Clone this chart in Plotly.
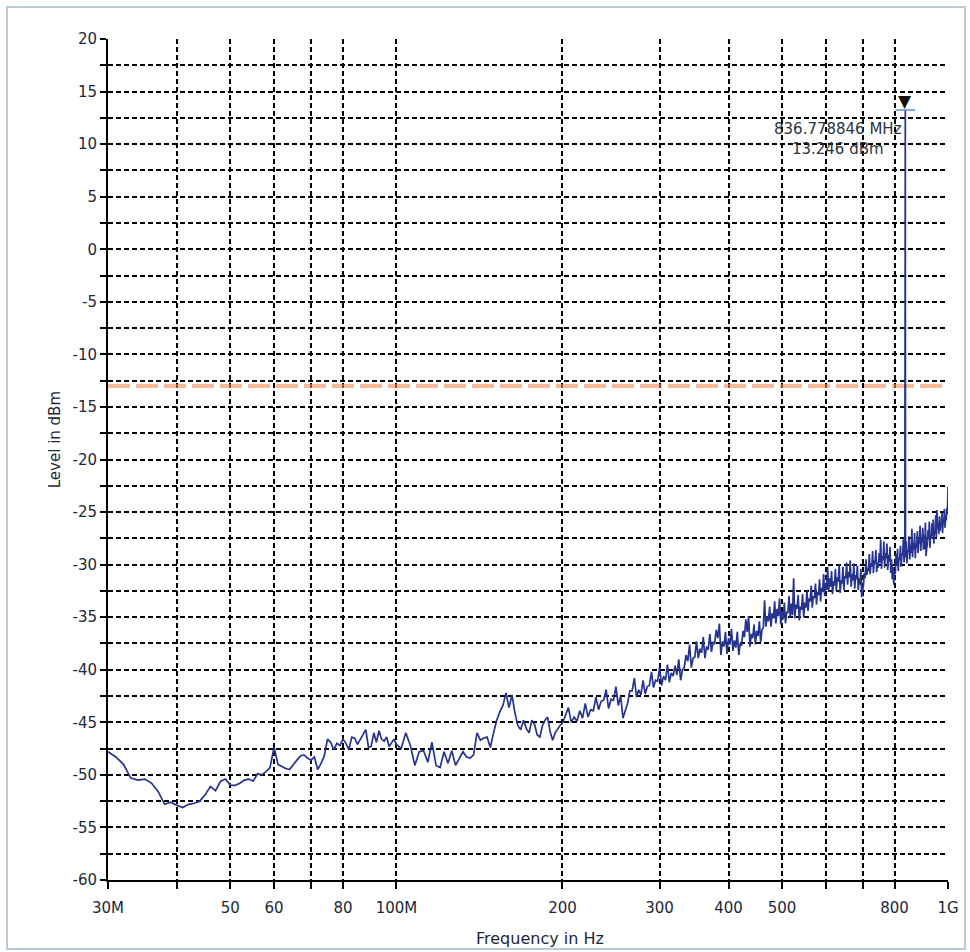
import math
import plotly.graph_objects as go

# Spectrum sweep, 30 MHz - 1 GHz (frequencies in MHz, levels in dBm)
LOW_FREQ_MHZ = [30, 31, 32, 33, 34, 35, 36, 37, 38, 39,
                40, 41, 42, 43, 44, 45, 46, 47, 48, 49,
                50, 51, 52, 53, 54, 55, 56, 57, 58, 59,
                60, 61, 62, 63, 64, 65, 66, 67, 68, 69,
                70, 71, 72, 73, 74, 75, 76, 77, 78, 79,
                80, 81, 82, 83, 84, 85, 86, 87, 88, 89,
                90, 91, 92, 93, 94, 95, 96, 97, 98, 99,
                100]
LOW_LEVEL_DBM = [-47.8, -48.3, -49.0, -50.3, -50.5, -50.4, -50.8, -51.6, -52.8, -52.6,
                 -52.9, -53.1, -52.8, -52.7, -52.5, -51.9, -51.1, -51.5, -50.6, -50.4,
                 -51.0, -51.0, -50.8, -50.5, -50.4, -50.6, -49.9, -50.0, -49.7, -49.3,
                 -47.4, -49.0, -49.2, -49.4, -49.5, -49.1, -48.6, -48.2, -48.1, -48.4,
                 -48.6, -48.3, -49.5, -48.9, -48.2, -46.6, -46.9, -47.6, -47.0, -47.2,
                 -46.6, -47.0, -47.6, -46.4, -46.5, -47.1, -46.6, -46.1, -45.7, -47.4,
                 -47.3, -46.0, -46.9, -45.8, -46.6, -46.8, -46.4, -47.3, -47.0, -46.6,
                 -47.1]

MID_FREQ_MHZ = [102, 104, 106, 108, 110, 112, 114, 116, 118, 120,
                122, 124, 126, 128, 130, 132, 134, 136, 138, 140,
                142, 144, 146, 148, 150, 152, 154, 156, 158, 160,
                162, 164, 166, 168, 170, 172, 174, 176, 178, 180,
                182, 184, 186, 188, 190, 192, 194, 196, 198, 200]
MID_LEVEL_DBM = [-47.5, -46.0, -47.2, -49.1, -47.8, -47.7, -48.8, -46.9, -49.1, -49.3,
                 -47.8, -48.9, -47.7, -49.1, -48.4, -47.8, -48.3, -48.4, -48.1, -46.0,
                 -46.7, -46.5, -46.4, -47.4, -46.0, -44.8, -44.0, -43.4, -42.2, -43.6,
                 -42.4, -44.1, -45.3, -45.7, -44.8, -45.6, -46.0, -44.8, -45.2, -46.2,
                 -46.4, -45.3, -44.8, -44.5, -45.9, -46.7, -46.0, -45.6, -45.3, -45.1]

HIGH_FREQ_MHZ = [205, 210, 215, 220, 225, 230, 235, 240, 245, 250,
                 255, 260, 265, 270, 275, 280, 285, 290, 295, 300,
                 305, 310, 315, 320, 325, 330, 335, 340, 345, 350,
                 355, 360, 365, 370, 375, 380, 385, 390, 395, 400,
                 405, 410, 415, 420, 425, 430, 435, 440, 445, 450,
                 455, 460, 465, 470, 475, 480, 485, 490, 495, 500,
                 505, 510, 515, 520, 525, 530, 535, 540, 545, 550,
                 555, 560, 565, 570, 575, 580, 585, 590, 595, 600,
                 605, 610, 615, 620, 625, 630, 635, 640, 645, 650,
                 655, 660, 665, 670, 675, 680, 685, 690, 695, 700,
                 705, 710, 715, 720, 725, 730, 735, 740, 745, 750,
                 755, 760, 765, 770, 775, 780, 785, 790, 795, 800,
                 805, 810, 815, 820, 825, 830, 835, 840, 845, 850,
                 855, 860, 865, 870, 875, 880, 885, 890, 895, 900,
                 905, 910, 915, 920, 925, 930, 935, 940, 945, 950,
                 955, 960, 965, 970, 975, 980, 985, 990, 995, 1000]
HIGH_LEVEL_DBM = [-43.6, -44.5, -43.9, -43.2, -43.8, -42.6, -43.0, -41.9, -42.8, -41.6,
                  -42.5, -43.8, -42.0, -40.8, -41.9, -41.0, -41.6, -40.2, -41.0, -39.8,
                  -40.6, -39.5, -40.3, -39.6, -39.0, -40.0, -38.6, -37.6, -38.9, -37.3,
                  -38.0, -36.9, -37.8, -36.6, -37.4, -36.2, -35.6, -37.3, -36.4, -37.0,
                  -36.1, -37.2, -36.4, -37.5, -36.3, -35.2, -34.9, -36.6, -35.7, -36.3,
                  -35.4, -36.2, -33.4, -34.9, -34.0, -34.6, -33.5, -34.2, -33.2, -34.4,
                  -33.6, -34.5, -33.0, -33.7, -31.3, -33.8, -32.9, -34.0, -32.8, -33.6,
                  -32.5, -33.2, -32.0, -33.0, -31.8, -32.6, -31.4, -32.2, -30.9, -31.8,
                  -30.2, -31.3, -30.6, -31.6, -30.4, -31.2, -30.0, -31.5, -30.2, -31.1,
                  -29.8, -30.7, -29.6, -30.9, -29.9, -31.0, -30.1, -31.3, -30.4, -32.5,
                  -30.8, -29.5, -30.3, -29.0, -29.9, -28.7, -29.6, -28.6, -29.8, -28.9,
                  -27.6, -29.2, -27.8, -28.9, -28.0, -29.1, -28.3, -29.5, -30.2, -30.6,
                  -29.0, -28.5, -29.4, -28.2, -29.0, -27.6, -28.7, -27.8, -28.6, -27.3,
                  -28.1, -26.6, -27.9, -27.0, -28.0, -26.8, -27.5, -26.3, -27.4, -26.5,
                  -27.2, -26.0, -28.4, -26.7, -25.9, -27.2, -26.1, -25.7, -26.8, -25.3,
                  -24.8, -26.0, -25.4, -26.2, -25.1, -25.8, -24.7, -25.5, -24.6, -22.6]

# Intermediate sweep points between the ones above (lower edge of the noise band)
HIGH_B_FREQ_MHZ = [207.5, 212.5, 217.5, 222.5, 227.5, 232.5, 237.5, 242.5, 247.5, 252.5,
                   257.5, 262.5, 267.5, 272.5, 277.5, 282.5, 287.5, 292.5, 297.5, 302.5,
                   307.5, 312.5, 317.5, 322.5, 327.5, 332.5, 337.5, 342.5, 347.5, 352.5,
                   357.5, 362.5, 367.5, 372.5, 377.5, 382.5, 387.5, 392.5, 397.5, 402.5,
                   407.5, 412.5, 417.5, 422.5, 427.5, 432.5, 437.5, 442.5, 447.5, 452.5,
                   457.5, 462.5, 467.5, 472.5, 477.5, 482.5, 487.5, 492.5, 497.5, 502.5,
                   507.5, 512.5, 517.5, 522.5, 527.5, 532.5, 537.5, 542.5, 547.5, 552.5,
                   557.5, 562.5, 567.5, 572.5, 577.5, 582.5, 587.5, 592.5, 597.5, 602.5,
                   607.5, 612.5, 617.5, 622.5, 627.5, 632.5, 637.5, 642.5, 647.5, 652.5,
                   657.5, 662.5, 667.5, 672.5, 677.5, 682.5, 687.5, 692.5, 697.5, 702.5,
                   707.5, 712.5, 717.5, 722.5, 727.5, 732.5, 737.5, 742.5, 747.5, 752.5,
                   757.5, 762.5, 767.5, 772.5, 777.5, 782.5, 787.5, 792.5, 797.5, 802.5,
                   807.5, 812.5, 817.5, 822.5, 827.5, 832.5, 837.5, 842.5, 847.5, 852.5,
                   857.5, 862.5, 867.5, 872.5, 877.5, 882.5, 887.5, 892.5, 897.5, 902.5,
                   907.5, 912.5, 917.5, 922.5, 927.5, 932.5, 937.5, 942.5, 947.5, 952.5,
                   957.5, 962.5, 967.5, 972.5, 977.5, 982.5, 987.5, 992.5, 997.5]
HIGH_B_LEVEL_DBM = [-45.0, -44.9, -44.6, -44.5, -43.9, -43.8, -42.9, -43.7, -42.9, -43.4,
                    -44.6, -43.2, -42.0, -42.6, -42.4, -42.3, -41.5, -41.7, -41.1, -41.5,
                    -41.0, -41.2, -40.6, -40.5, -41.0, -39.8, -39.2, -39.8, -38.8, -38.9,
                    -38.4, -38.9, -38.1, -38.3, -37.5, -37.0, -38.6, -37.8, -38.5, -37.6,
                    -38.2, -37.9, -38.6, -37.7, -36.9, -36.4, -37.8, -37.0, -37.6, -36.8,
                    -37.4, -36.0, -35.9, -35.4, -35.9, -35.1, -35.6, -34.9, -35.7, -35.2,
                    -35.6, -34.6, -35.0, -34.8, -35.1, -34.2, -35.3, -34.3, -35.0, -34.1,
                    -34.4, -33.5, -34.1, -33.2, -33.8, -32.9, -33.5, -32.6, -33.0, -32.4,
                    -32.6, -32.1, -32.8, -32.0, -32.5, -31.6, -32.7, -31.8, -32.4, -31.3,
                    -31.9, -31.2, -32.1, -31.5, -32.3, -31.4, -32.4, -31.9, -33.1, -32.0,
                    -31.3, -31.0, -30.6, -30.9, -30.2, -30.8, -29.9, -30.7, -30.3, -29.8,
                    -30.4, -29.6, -30.3, -29.4, -30.5, -29.7, -30.8, -31.4, -31.9, -30.9,
                    -30.1, -30.6, -29.5, -30.2, -29.1, -29.8, -29.3, -29.9, -28.8, -29.5,
                    -28.9, -29.3, -28.6, -29.4, -28.4, -28.9, -28.0, -28.7, -27.9, -28.6,
                    -28.5, -29.2, -28.1, -27.6, -28.4, -27.5, -27.3, -28.0, -27.1, -27.4,
                    -26.6, -27.1, -26.8, -26.3, -27.0, -26.1, -26.5, -25.8, -25.2]

# Peak marker
MARKER_FREQ_MHZ = 836.778846
MARKER_LEVEL_DBM = 13.246

# Limit line
LIMIT_DBM = -13.0

X_TICK_MHZ = [30, 40, 50, 60, 70, 80, 100, 200, 300, 400, 500, 600, 700, 800, 1000]
X_TICK_TEXT = ["30M", "", "50", "60", "", "80", "100M", "200", "300", "400", "500", "", "", "800", "1G"]
Y_TICK_DB = [-60, -57.5, -55, -52.5, -50, -47.5, -45, -42.5, -40, -37.5, -35, -32.5,
             -30, -27.5, -25, -22.5, -20, -17.5, -15, -12.5, -10, -7.5, -5, -2.5,
             0, 2.5, 5, 7.5, 10, 12.5, 15, 17.5, 20]
Y_TICK_TEXT = [str(int(v)) if v % 5 == 0 else "" for v in Y_TICK_DB]

# Assemble the sweep, with the marker peak placed in frequency order
points = (list(zip(LOW_FREQ_MHZ, LOW_LEVEL_DBM)) + list(zip(MID_FREQ_MHZ, MID_LEVEL_DBM))
          + list(zip(HIGH_FREQ_MHZ, HIGH_LEVEL_DBM)) + list(zip(HIGH_B_FREQ_MHZ, HIGH_B_LEVEL_DBM))
          + [(MARKER_FREQ_MHZ, MARKER_LEVEL_DBM)])
points.sort(key=lambda p: p[0])
freq = [p[0] for p in points]
level = [p[1] for p in points]

TEXT_COLOR = "#1c2836"
FONT = "DejaVu Sans"

fig = go.Figure()

fig.add_trace(go.Scatter(
    x=[LOW_FREQ_MHZ[0], HIGH_FREQ_MHZ[-1]], y=[LIMIT_DBM, LIMIT_DBM],
    mode="lines", line=dict(color="rgba(240,140,80,0.6)", width=4, dash="22px,6px"),
    hoverinfo="skip", showlegend=False))

fig.add_trace(go.Scatter(
    x=freq, y=level, mode="lines",
    line=dict(color="#26338f", width=1.7),
    hoverinfo="skip", showlegend=False))

fig.add_trace(go.Scatter(
    x=[MARKER_FREQ_MHZ], y=[MARKER_LEVEL_DBM], mode="markers",
    marker=dict(symbol="line-ew", size=14, line=dict(color="#5b8fd6", width=1.5)),
    hoverinfo="skip", showlegend=False))

mx = math.log10(MARKER_FREQ_MHZ)
fig.add_annotation(x=mx, y=MARKER_LEVEL_DBM, text="▼", showarrow=False,
                   xanchor="center", yanchor="bottom", yshift=-3,
                   font=dict(family=FONT, size=17, color="#111111"))
fig.add_annotation(x=mx, y=MARKER_LEVEL_DBM,
                   text=f"{MARKER_FREQ_MHZ:.6f} MHz<br>{MARKER_LEVEL_DBM:.3f} dBm",
                   showarrow=False, xanchor="right", yanchor="top", align="center",
                   xshift=-1, yshift=-8,
                   font=dict(family=FONT, size=15, color="#2a3442"))

# Axis titles
fig.add_annotation(xref="paper", yref="paper", x=-0.063, y=0.523, text="Level in dBm",
                   textangle=-90, showarrow=False, xanchor="center", yanchor="middle",
                   font=dict(family=FONT, size=15, color=TEXT_COLOR))
fig.add_annotation(xref="paper", yref="paper", x=0.514, y=-0.069, text="Frequency in Hz",
                   showarrow=False, xanchor="center", yanchor="middle",
                   font=dict(family=FONT, size=16, color=TEXT_COLOR))

# Outer frame
fig.add_shape(type="rect", xref="paper", yref="paper",
              x0=-0.1202, x1=1.0202, y0=-0.082, y1=1.038,
              line=dict(color="#bccbd8", width=2), layer="below")

grid = dict(showgrid=True, gridcolor="#000000", gridwidth=1.7, griddash="5px,3px",
            zeroline=False, showline=True, linecolor="#000000", linewidth=2,
            ticks="outside", tickcolor="#000000", tickwidth=1.8,
            tickfont=dict(family=FONT, size=15, color=TEXT_COLOR))

fig.update_layout(
    width=970, height=952,
    margin=dict(l=108, r=22, t=39, b=72),
    paper_bgcolor="white", plot_bgcolor="white",
    font=dict(family=FONT, size=15, color=TEXT_COLOR),
    xaxis=dict(type="log", range=[math.log10(30), 3.0],
               tickmode="array", tickvals=X_TICK_MHZ, ticktext=X_TICK_TEXT,
               ticklen=7, ticklabelstandoff=6, **grid),
    yaxis=dict(range=[-60, 20], tickmode="array", tickvals=Y_TICK_DB, ticktext=Y_TICK_TEXT,
               ticklen=6, **grid),
)

fig.write_html("out.html")
